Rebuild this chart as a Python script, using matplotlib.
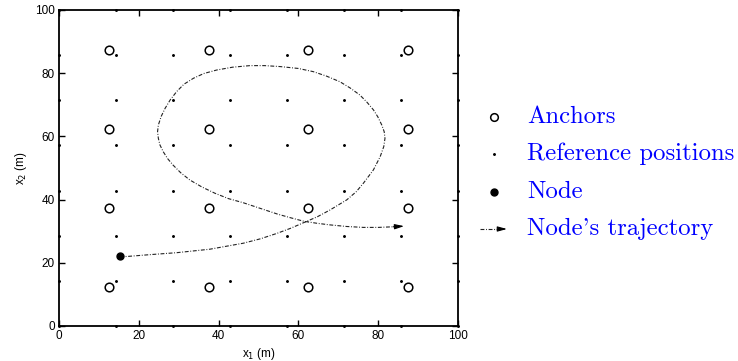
import numpy as np
import matplotlib
matplotlib.use("Agg")
import matplotlib.pyplot as plt

# ---- data ----
anchor_coords = [12.5, 37.5, 62.5, 87.5]
ref_coords = [k * 100 / 7 for k in range(8)]
node = (15.3, 22.2)
traj_x = [15.3, 17.0, 23.0, 29.5, 37.8, 46.2, 50.5, 54.6, 58.0, 61.5, 64.8, 67.9, 72.1,
          74.5, 76.3, 78.8, 80.5, 81.4, 81.7, 81.5, 80.9, 79.9, 78.8, 77.2, 75.4, 73.0,
          70.4, 67.0, 63.7, 60.0, 55.4, 51.5, 47.9, 43.5, 39.5, 36.3, 33.7, 31.3, 29.5,
          27.9, 26.6, 25.6, 24.9, 24.7, 24.9, 25.3, 26.1, 27.2, 28.6, 30.5, 32.8, 35.8,
          39.1, 42.5, 46.2, 50.5, 54.8, 58.2, 61.5, 64.7, 67.9, 72.0, 76.3, 80.0, 83.8, 86.5]
traj_y = [22.0, 22.0, 22.6, 23.2, 24.3, 26.2, 27.6, 29.3, 30.9, 32.8, 34.6, 36.7, 39.9,
          42.5, 45.2, 49.4, 53.6, 56.8, 59.4, 61.5, 63.6, 66.2, 68.4, 70.8, 73.1, 75.3,
          77.3, 79.1, 80.5, 81.5, 82.1, 82.4, 82.4, 81.9, 81.0, 79.9, 78.4, 76.5, 74.2,
          71.6, 68.9, 66.3, 63.6, 61.5, 59.4, 57.3, 55.2, 53.0, 50.9, 48.5, 46.2, 44.0,
          42.0, 40.3, 39.0, 37.2, 35.4, 34.2, 33.1, 32.5, 32.0, 31.5, 31.2, 31.2, 31.4, 31.6]
legend_labels = ["Anchors", "Reference positions", "Node", "Node's trajectory"]

W, H = 738, 361
fig = plt.figure(figsize=(W / 100, H / 100), dpi=100)
ax = fig.add_axes([59 / W, 1 - 326 / H, (458 - 59) / W, (326 - 10) / H])

ax.set_xlim(0, 100)
ax.set_ylim(0, 100)

ax_x, ax_y = np.meshgrid(anchor_coords, anchor_coords)
ax.plot(ax_x.ravel(), ax_y.ravel(), 'o', mfc='white', mec='black', ms=6.2, mew=1.1, zorder=3)
rx, ry = np.meshgrid(ref_coords, ref_coords)
ax.plot(rx.ravel(), ry.ravel(), '.', color='black', ms=2.2, clip_on=False, zorder=4)

ls = (0, (3.5, 1.5, 0.8, 1.5))
arrow_style = '-|>,head_length=0.55,head_width=0.15'
ax.plot(traj_x[:-1], traj_y[:-1], color='#222222', lw=0.8, linestyle=ls, zorder=2)
ax.annotate('', xy=(traj_x[-1], traj_y[-1]), xytext=(traj_x[-2], traj_y[-2]),
            arrowprops=dict(arrowstyle=arrow_style,
                            color='black', lw=0.8, shrinkA=0, shrinkB=0))
ax.plot([node[0]], [node[1]], 'o', color='black', ms=5, zorder=5)

ax.set_xticks([0, 20, 40, 60, 80, 100])
ax.set_yticks([0, 20, 40, 60, 80, 100])
ax.tick_params(direction='in', length=4, width=1, top=True, right=True,
               labelsize=8.5, pad=3)
for lab in ax.get_xticklabels() + ax.get_yticklabels():
    lab.set_fontfamily('Liberation Sans')
for s in ax.spines.values():
    s.set_linewidth(1.3)
ax.set_xlabel('x$_1$ (m)', fontsize=8.5, fontfamily='Liberation Sans', labelpad=3)
ax.set_ylabel('x$_2$ (m)', fontsize=8.5, fontfamily='Liberation Sans', labelpad=4)

# ---- legend (manual, outside the axes) ----
lax = fig.add_axes([0, 0, 1, 1])
lax.set_xlim(0, W)
lax.set_ylim(H, 0)
lax.axis('off')
rows_y = [117, 154, 192, 229]
lax.plot([494], [rows_y[0]], 'o', mfc='white', mec='black', ms=5.5, mew=1.1)
lax.plot([494], [rows_y[1]], '.', color='black', ms=2.2)
lax.plot([494], [rows_y[2]], 'o', color='black', ms=5)
lax.plot([480, 499], [rows_y[3], rows_y[3]], color='#222222', lw=0.8, linestyle=ls)
lax.annotate('', xy=(507, rows_y[3]), xytext=(499, rows_y[3]),
             arrowprops=dict(arrowstyle=arrow_style,
                             color='black', lw=0.8, shrinkA=0, shrinkB=0))
for lbl, yy in zip(legend_labels, rows_y):
    lax.text(527, yy, lbl, color='blue', fontsize=17.8, fontfamily='cmr10',
             va='center', ha='left')

fig.savefig('out.png', dpi=100)
